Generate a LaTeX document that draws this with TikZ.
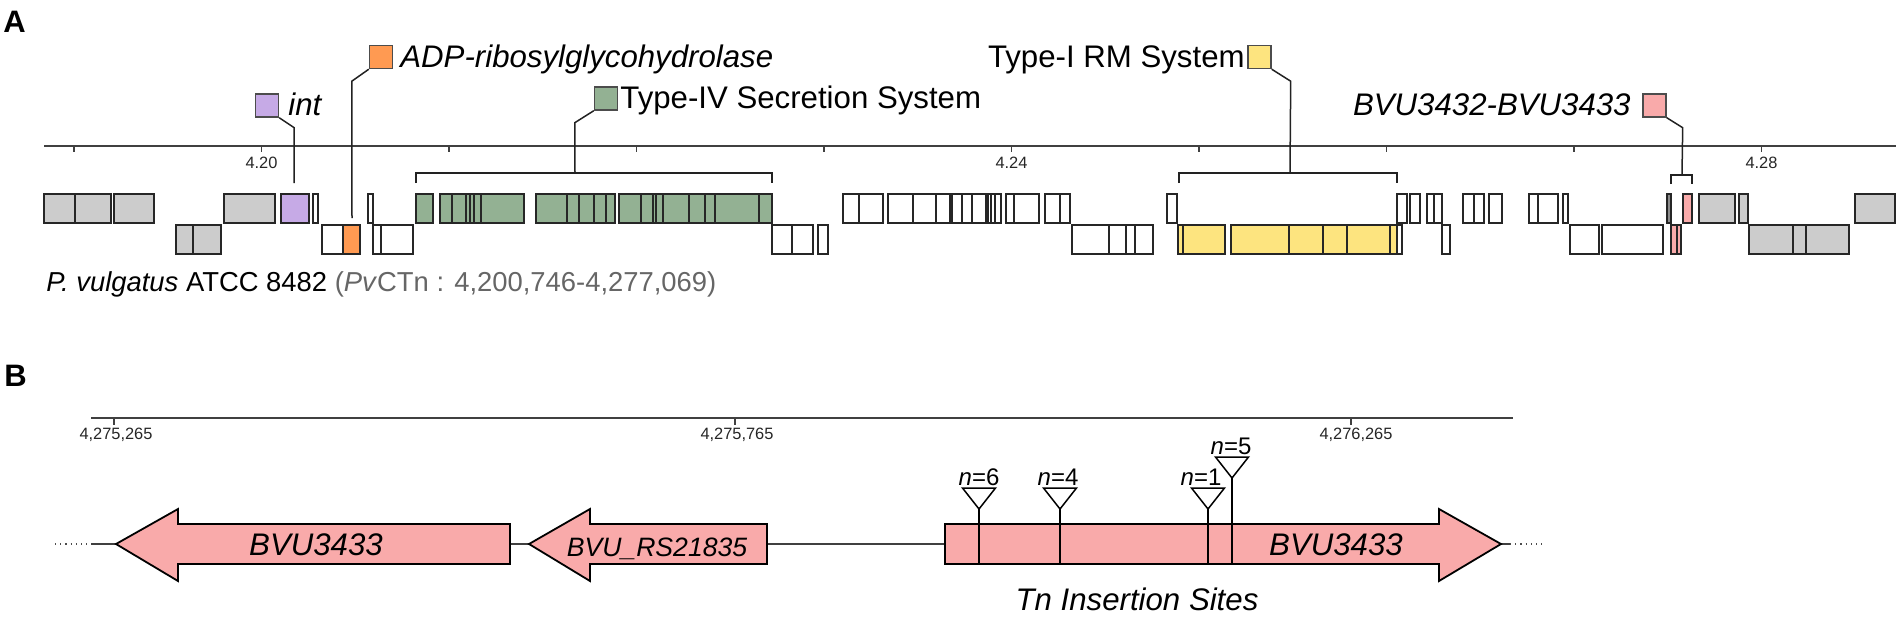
\documentclass[tikz,border=0pt]{standalone}
\usepackage{fontspec}
\setmainfont{Liberation Sans}
\definecolor{cgray}{HTML}{CCCCCC}
\definecolor{cpurple}{HTML}{C6AAE6}
\definecolor{corange}{HTML}{FF9A52}
\definecolor{cgreen}{HTML}{93B193}
\definecolor{cyellow}{HTML}{FDE47F}
\definecolor{cpink}{HTML}{F9AAAA}
\definecolor{cline}{HTML}{222222}
\definecolor{ctxtgray}{HTML}{666666}
\begin{document}
\begin{tikzpicture}[x=0.5pt,y=-0.5pt,
  gene/.style={draw=black!85, line width=0.95pt},
  legbox/.style={draw=black!70, line width=0.7pt, minimum width=11.5pt, minimum height=11.5pt, inner sep=0pt},
  conn/.style={draw=cline, line width=0.75pt},
  axisline/.style={draw=black!75, line width=0.75pt},
  lblit/.style={font=\fontsize{15.6}{18}\selectfont\itshape, inner sep=0pt},
  lblup/.style={font=\fontsize{15.6}{18}\selectfont, inner sep=0pt},
  ticklbl/.style={font=\fontsize{8.2}{10}\selectfont, inner sep=0pt, text=black!85},
  panel/.style={font=\fontsize{15.5}{18}\selectfont\bfseries, inner sep=0pt},
  arrowgene/.style={draw=black, line width=0.9pt, fill=cpink},
  tri/.style={draw=black, line width=0.75pt, fill=white},
  nlbl/.style={font=\fontsize{12}{14}\selectfont, inner sep=0pt}
]
\useasboundingbox (0,0) rectangle (1902,618);

% ---------------- Panel A ----------------
\node[panel, anchor=base west] (labA) at (3,32) {A};

% axis
\draw[axisline] (44,146) -- (1896,146);
\foreach \t in {74,261.5,449,636.5,824,1011.5,1199,1386.5,1574,1761.5}
  \draw[axisline] (\t,146) -- (\t,152);
\node[ticklbl, anchor=base] (t420) at (261.5,168) {4.20};
\node[ticklbl, anchor=base] (t424) at (1011.5,168) {4.24};
\node[ticklbl, anchor=base] (t428) at (1761.5,168) {4.28};

% top row genes
\foreach \a/\b/\c in {44/75/cgray,75/111/cgray,114/154/cgray,224/275/cgray,
  281/309/cpurple,313/318/white,368/373/white,
  416/433/cgreen,440/452/cgreen,452/466/cgreen,466/470/cgreen,470/474/cgreen,474/481/cgreen,481/524/cgreen,
  536/567/cgreen,567/579/cgreen,579/594/cgreen,594/606/cgreen,606/615/cgreen,
  619/641/cgreen,641/653/cgreen,653/656/cgreen,656/663/cgreen,663/689/cgreen,689/705/cgreen,705/715/cgreen,715/759/cgreen,759/772/cgreen,
  843/859/white,859/883/white,888/913/white,913/936/white,936/950/white,952/962/white,962/972/white,972/986/white,986/988/white,988/991/white,991/995/white,995/1001/white,
  1006/1014/white,1014/1039/white,1045/1060/white,1060/1070/white,1167/1177/white,
  1397/1407/white,1410/1420/white,1427/1434/white,1434/1442/white,1463/1474/white,1474/1484/white,1489/1502/white,
  1529/1538/white,1538/1558/white,1563/1568/white,
  1667/1671/black!45,1683/1692/cpink,1699/1735/cgray,1739/1748/cgray,1855/1895/cgray}
  \draw[gene, fill=\c] (\a,194) rectangle (\b,223);

% bottom row genes
\foreach \a/\b/\c in {176/193/cgray,193/221/cgray,
  322/343/white,343/360/corange,373/381/white,381/413/white,
  772/792/white,792/813/white,818/828/white,
  1072/1109/white,1109/1126/white,1126/1135/white,1135/1153/white,
  1178/1183/cyellow,1183/1225/cyellow,1231/1289/cyellow,1289/1323/cyellow,1323/1347/cyellow,1347/1390/cyellow,1390/1397/cyellow,1397/1402/white,
  1442/1450/white,1570/1599/white,1602/1663/white,
  1671/1677/cpink,1677/1681/cpink,
  1749/1793/cgray,1793/1806/cgray,1806/1849/cgray}
  \draw[gene, fill=\c] (\a,225) rectangle (\b,254);

% brackets
\draw[conn] (416,183) -- (416,173) -- (772,173) -- (772,183);
\draw[conn] (1179,183) -- (1179,173) -- (1397,173) -- (1397,183);
\draw[conn] (1671,184) -- (1671,175) -- (1692,175) -- (1692,184);
\coordinate (intend) at (294,183);
\coordinate (adpend) at (352,218);
\coordinate (t4top) at (575,173);
\coordinate (rmtop) at (1290,173);
\coordinate (bvutop) at (1682,175);

% legend boxes and labels
\node[legbox, fill=cpurple] (intbox) at (267,105.5) {};
\node[lblit, anchor=base west] (intlbl) at (288,115) {int};
\node[legbox, fill=corange] (adpbox) at (381,57) {};
\node[lblit, anchor=base west] (adplbl) at (400,67) {ADP-ribosylglycohydrolase};
\node[legbox, fill=cgreen] (t4box) at (606,98.5) {};
\node[lblup, anchor=base west] (t4lbl) at (620,108) {Type-IV Secretion System};
\node[legbox, fill=cyellow] (rmbox) at (1259.5,57) {};
\node[lblup, anchor=base east] (rmlbl) at (1245,67) {Type-I RM System};
\node[legbox, fill=cpink] (bvubox) at (1654.5,105.5) {};
\node[lblit, anchor=base east] (bvulbl) at (1631,115) {BVU3432-BVU3433};

% connectors
\draw[conn] (intbox.south east) -- ++(15,10) -- (intend);
\draw[conn] (adpbox.south west) -- ++(-17,12) -- (adpend);
\draw[conn] (t4box.south west) -- ++(-19,12) -- (t4top);
\draw[conn] (rmbox.south east) -- ++(19,12) -- (rmtop);
\draw[conn] (bvubox.south east) -- ++(16,10) -- (bvutop);

% caption
\node[anchor=base west, inner sep=0pt, font=\fontsize{13.7}{16}\selectfont] (capt) at (46,291)
  {\textit{P. vulgatus} ATCC 8482 \textcolor{ctxtgray}{(\textit{Pv}CTn : 4,200,746-4,277,069)}};

% ---------------- Panel B ----------------
\node[panel, anchor=base west] (labB) at (4,386) {B};

\draw[axisline] (91,418) -- (1513,418);
\foreach \t in {114,735,1351}
  \draw[axisline] (\t,418) -- (\t,425);
\node[ticklbl, anchor=base] (b1) at (116,439) {4,275,265};
\node[ticklbl, anchor=base] (b2) at (737,439) {4,275,765};
\node[ticklbl, anchor=base] (b3) at (1356,439) {4,276,265};

% backbone
\coordinate (lfar) at (55,544);
\coordinate (lnear) at (91,544);
\coordinate (l1tip) at (116,544);
\coordinate (l1end) at (510,544);
\coordinate (l2tip) at (529,544);
\coordinate (l2end) at (767,544);
\coordinate (r1start) at (945,544);
\coordinate (r1tip) at (1501,544);
\coordinate (rnear) at (1510,544);
\coordinate (rfar) at (1545,544);
\draw[line width=0.6pt, dotted, black!70] (lfar) -- (lnear);
\draw[line width=0.75pt, black!75] (lnear) -- (l1tip);
\draw[line width=0.75pt, black!75] (l1end) -- (l2tip);
\draw[line width=0.75pt, black!75] (l2end) -- (r1start);
\draw[line width=0.75pt, black!75] (r1tip) -- (rnear);
\draw[line width=0.6pt, dotted, black!70] (rnear) -- (rfar);

% gene arrows
\draw[arrowgene] (l1tip) -- (178,509) -- (178,524) -- (510,524) -- (510,564) -- (178,564) -- (178,581) -- cycle;
\draw[arrowgene] (l2tip) -- (590,509) -- (590,524) -- (767,524) -- (767,564) -- (590,564) -- (590,581) -- cycle;
\draw[arrowgene] (945,524) -- (1439,524) -- (1439,509) -- (r1tip) -- (1439,581) -- (1439,564) -- (945,564) -- cycle;
\node[lblit] (g1) at (316,545) {BVU3433};
\node[lblit, anchor=base, font=\fontsize{13.3}{16}\selectfont\itshape] (g2) at (657,556) {BVU\_RS21835};
\node[lblit] (g3) at (1336,545) {BVU3433};

% insertion sites
\foreach \x/\ty/\lab/\lx in {979/488/6/979,1060/488/4/1058,1208/488/1/1201,1232/457/5/1231}{
  \draw[line width=0.65pt] (\x,\ty+21) -- (\x,565);
  \draw[tri] ({\x-16.5},\ty) -- ({\x+16.5},\ty) -- (\x,\ty+21) -- cycle;
  \node[nlbl, anchor=base] (n\lab) at (\lx,\ty-3) {\textit{n}=\lab};
}
\node[lblit, anchor=base] (tnlbl) at (1137,610) {Tn Insertion Sites};

\end{tikzpicture}
\end{document}
